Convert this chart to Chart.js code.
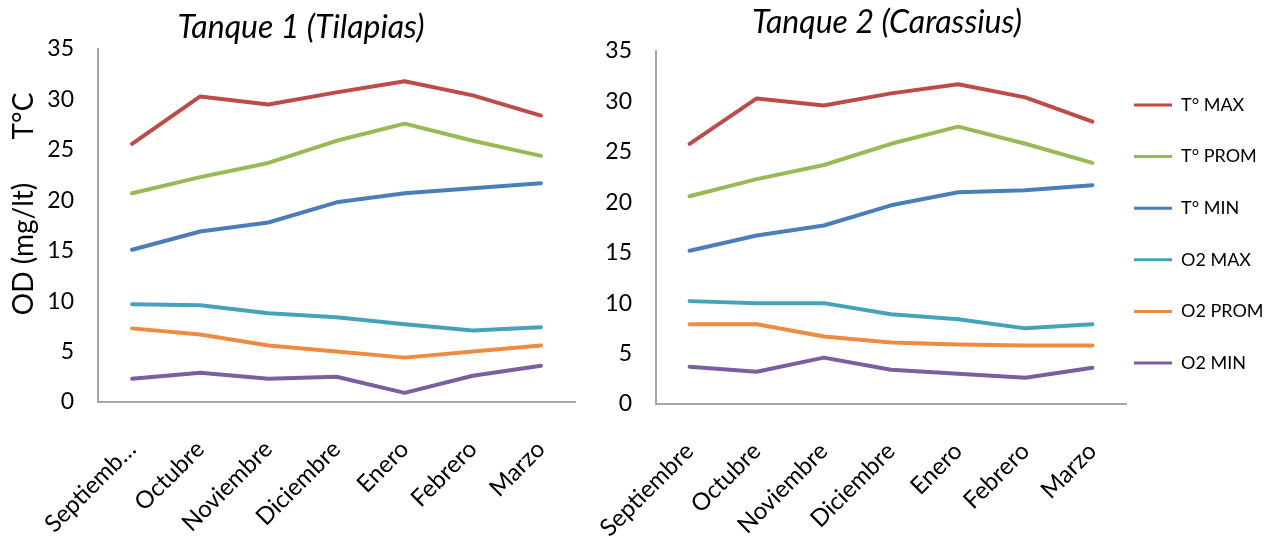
<!DOCTYPE html>
<html><head><meta charset="utf-8">
<script src="https://cdn.jsdelivr.net/npm/chart.js@4.4.1/dist/chart.umd.min.js"></script>
<style>
html,body{margin:0;padding:0;background:#fff;overflow:hidden;width:1264px;height:546px;}
#c1{position:absolute;left:0;top:0;}
#c2{position:absolute;left:510px;top:0;}
</style></head><body>
<canvas id="c1" width="602" height="546"></canvas>
<canvas id="c2" width="754" height="546"></canvas>
<script>
const categories = ['Septiembre','Octubre','Noviembre','Diciembre','Enero','Febrero','Marzo'];
const leftTickLabels = ['Septiemb…','Octubre','Noviembre','Diciembre','Enero','Febrero','Marzo'];
const seriesNames = ['T° MAX','T° PROM','T° MIN','O2 MAX','O2 PROM','O2 MIN'];
const seriesColors = ['#BE4B48','#98B954','#4A7EBB','#44A3BB','#EE8B40','#7A5EA0'];
const yMin = 0, yMax = 35, yStep = 5;
const title1 = 'Tanque 1 (Tilapias)';
const title2 = 'Tanque 2 (Carassius)';

// Tanque 1 (Tilapias)
const t1TMax  = [25.6, 30.3, 29.5, 30.7, 31.8, 30.4, 28.4];
const t1TProm = [20.7, 22.3, 23.7, 25.9, 27.6, 25.9, 24.4];
const t1TMin  = [15.1, 16.9, 17.8, 19.8, 20.7, 21.2, 21.7];
const t1OMax  = [9.7, 9.6, 8.8, 8.4, 7.7, 7.1, 7.4];
const t1OProm = [7.3, 6.7, 5.6, 5.0, 4.4, 5.0, 5.6];
const t1OMin  = [2.3, 2.9, 2.3, 2.5, 0.9, 2.6, 3.6];

// Tanque 2 (Carassius)
const t2TMax  = [25.8, 30.3, 29.6, 30.8, 31.7, 30.4, 28.0];
const t2TProm = [20.6, 22.3, 23.7, 25.8, 27.5, 25.8, 23.9];
const t2TMin  = [15.2, 16.7, 17.7, 19.7, 21.0, 21.2, 21.7];
const t2OMax  = [10.2, 10.0, 10.0, 8.9, 8.4, 7.5, 7.9];
const t2OProm = [7.9, 7.9, 6.7, 6.1, 5.9, 5.8, 5.8];
const t2OMin  = [3.7, 3.2, 4.6, 3.4, 3.0, 2.6, 3.6];

Chart.defaults.font.family = 'Lato, "Open Sans", sans-serif';
Chart.defaults.color = '#000';

function buildDatasets(series){
  return series.map((vals, i) => ({
    label: seriesNames[i],
    data: vals,
    borderColor: seriesColors[i],
    backgroundColor: seriesColors[i],
    borderWidth: 4,
    pointRadius: 0,
    pointHoverRadius: 0,
    tension: 0,
    borderCapStyle: 'round',
    borderJoinStyle: 'round',
    fill: false
  }));
}

const axisTitlePlugin = {
  id: 'axisTitles',
  afterDraw(chart, args, opts){
    if (!opts || !opts.items) return;
    const ctx = chart.ctx;
    opts.items.forEach(it => {
      ctx.save();
      ctx.fillStyle = '#000';
      ctx.font = it.font;
      ctx.translate(it.x, it.y);
      ctx.rotate(-Math.PI/2);
      ctx.textAlign = 'center';
      ctx.textBaseline = 'alphabetic';
      ctx.fillText(it.text, 0, 0);
      ctx.restore();
    });
  }
};

const legendPlacePlugin = {
  id: 'legendPlace',
  afterLayout(chart, args, opts){
    const lg = chart.legend;
    if (!lg || !opts || opts.left == null) return;
    lg.left = opts.left;
    lg.right = chart.width;
    lg.top = opts.top;
    lg.bottom = chart.height;
    lg.width = lg.right - lg.left;
    lg.height = lg.bottom - lg.top;
  }
};

function makeScales(yWidth, xHeight){
  return {
    x: {
      offset: true,
      grid: {display: false, drawTicks: false},
      border: {display: true, color: '#A6A6A6', width: 2},
      ticks: {autoSkip: false, minRotation: 45, maxRotation: 45, font: {size: 24}, color: '#000', padding: 33},
      afterFit: s => { s.height = xHeight; }
    },
    y: {
      min: yMin, max: yMax,
      grid: {display: false, drawTicks: false},
      border: {display: true, color: '#A6A6A6', width: 2},
      ticks: {stepSize: yStep, font: {size: 23}, color: '#000', padding: 24},
      afterFit: s => { s.width = yWidth; }
    }
  };
}

new Chart(document.getElementById('c1'), {
  type: 'line',
  data: {
    labels: leftTickLabels,
    datasets: buildDatasets([t1TMax, t1TProm, t1TMin, t1OMax, t1OProm, t1OMin])
  },
  options: {
    responsive: false,
    animation: false,
    events: [],
    layout: {padding: {left: 27, right: 27, top: 0, bottom: 0}},
    plugins: {
      legend: {display: false},
      tooltip: {enabled: false},
      title: {
        display: true, text: title1, color: '#000',
        font: {size: 32, style: 'italic', weight: 'normal'},
        padding: {top: 8, bottom: 2.6}
      },
      axisTitles: {
        items: [
          {text: 'OD (mg/lt)', x: 33, y: 249, font: '28px Lato, "Open Sans", sans-serif'},
          {text: 'T°C', x: 33, y: 116, font: '28px Lato, "Open Sans", sans-serif'}
        ]
      }
    },
    scales: makeScales(71, 144)
  },
  plugins: [axisTitlePlugin]
});

new Chart(document.getElementById('c2'), {
  type: 'line',
  data: {
    labels: categories,
    datasets: buildDatasets([t2TMax, t2TProm, t2TMin, t2OMax, t2OProm, t2OMin])
  },
  options: {
    responsive: false,
    animation: false,
    events: [],
    layout: {padding: {left: 0, right: 0, top: 0, bottom: 0}},
    plugins: {
      tooltip: {enabled: false},
      title: {
        display: true, text: title2, color: '#000',
        font: {size: 32, style: 'italic', weight: 'normal'},
        padding: {top: 3, bottom: 9.6}
      },
      legend: {
        display: true,
        position: 'right',
        align: 'start',
        fullSize: false,
        maxWidth: 138,
        labels: {
          usePointStyle: true,
          pointStyle: 'line',
          pointStyleWidth: 38,
          padding: 33.6,
          color: '#000',
          font: {size: 18},
          generateLabels: (chart) => Chart.defaults.plugins.legend.labels.generateLabels(chart).map(l => Object.assign(l, {lineWidth: 3}))
        }
      },
      legendPlace: {left: 590.4, top: 62.4}
    },
    scales: makeScales(146, 142)
  },
  plugins: [legendPlacePlugin]
});
</script>
</body></html>
